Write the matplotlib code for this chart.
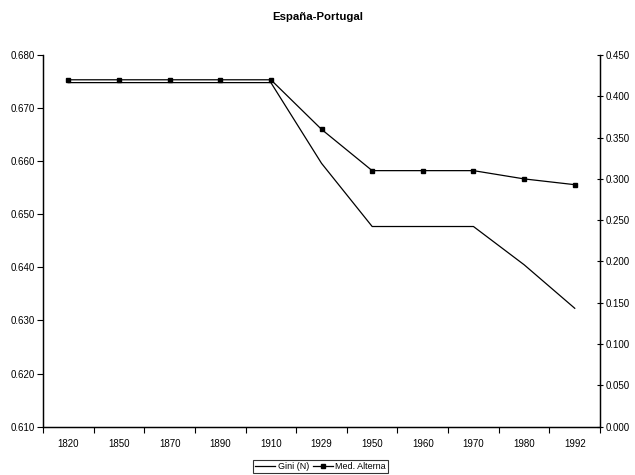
import numpy as np
import matplotlib
matplotlib.use("Agg")
import matplotlib.pyplot as plt
from matplotlib.ticker import FixedLocator, NullFormatter, FormatStrFormatter

plt.rcParams['font.family'] = ['Liberation Sans', 'DejaVu Sans']

years = ["1820", "1850", "1870", "1890", "1910", "1929", "1950", "1960", "1970", "1980", "1992"]
gini_n = [0.6748, 0.6748, 0.6748, 0.6748, 0.6748, 0.6596, 0.6477, 0.6477, 0.6477, 0.6405, 0.6323]
med_alterna = [0.420, 0.420, 0.420, 0.420, 0.420, 0.360, 0.310, 0.310, 0.310, 0.300, 0.293]

fig = plt.figure(figsize=(6.35, 4.75), dpi=100)
ax = fig.add_axes([0.0677, 0.1017, 0.8773, 0.7825])
ax2 = ax.twinx()

x = np.arange(len(years))
l1, = ax.plot(x, gini_n, color='black', lw=0.9, label='Gini (N)')
l2, = ax2.plot(x, med_alterna, color='black', lw=0.9, marker='s', ms=3.4,
               label='Med. Alterna')

ax.set_xlim(-0.5, len(years) - 0.5)
ax.set_ylim(0.610, 0.680)
ax.set_yticks(np.arange(0.610, 0.6801, 0.010))
ax.yaxis.set_major_formatter(FormatStrFormatter('%.3f'))
ax2.set_ylim(0.0, 0.45)
ax2.set_yticks(np.arange(0.0, 0.4501, 0.05))
ax2.yaxis.set_major_formatter(FormatStrFormatter('%.3f'))

# year labels sit between the boundary tick marks
ax.xaxis.set_major_locator(FixedLocator(np.arange(-0.5, len(years))))
ax.xaxis.set_major_formatter(NullFormatter())
ax.xaxis.set_minor_locator(FixedLocator(x))
ax.set_xticklabels(years, minor=True)
ax.tick_params(axis='x', which='major', length=4, width=0.8, direction='out', color='black')
ax.tick_params(axis='x', which='minor', length=0, labelsize=7, pad=9)
ax.tick_params(axis='y', length=4, width=0.8, direction='out', labelsize=7, pad=2)
ax2.tick_params(axis='y', length=4, width=0.8, direction='inout', labelsize=7, pad=2)

for a in (ax, ax2):
    a.spines['top'].set_visible(False)
    for s in ('left', 'right', 'bottom'):
        a.spines[s].set_linewidth(0.9)

fig.suptitle("España-Portugal", y=0.975, fontsize=8.2, fontweight='bold')

leg = fig.legend(handles=[l1, l2], loc='lower center', bbox_to_anchor=(0.505, 0.0),
                 ncol=2, fontsize=6.5, frameon=True, fancybox=False,
                 handlelength=2.2, handletextpad=0.3, columnspacing=0.4,
                 borderpad=0.25, borderaxespad=0.2)
leg.get_frame().set_edgecolor('black')
leg.get_frame().set_linewidth(0.8)

fig.savefig("out.png", dpi=100)
